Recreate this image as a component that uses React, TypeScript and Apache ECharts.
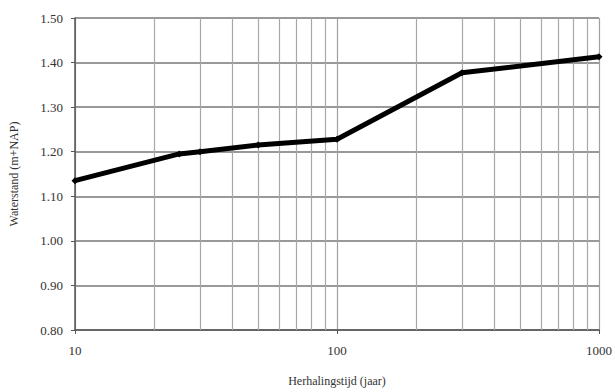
import React, { useEffect, useRef } from "react";
import * as echarts from "echarts";

const returnPeriods = [10, 25, 30, 50, 100, 300, 1000];
const waterLevels = [1.135, 1.195, 1.2, 1.215, 1.228, 1.377, 1.413];
const minorGridYears = [20, 30, 40, 50, 60, 70, 80, 90, 200, 300, 400, 500, 600, 700, 800, 900];
const yTitle = "Waterstand (m+NAP)";
const xTitle = "Herhalingstijd (jaar)";

const FONT = "Liberation Serif";

export default function App() {
  const ref = useRef<HTMLDivElement>(null);
  useEffect(() => {
    if (!ref.current) return;
    const chart = echarts.init(ref.current, null, { renderer: "svg" });
    chart.setOption({
      animation: false,
      backgroundColor: "#ffffff",
      textStyle: { fontFamily: FONT },
      grid: { left: 73, right: 15, top: 18, bottom: 60 },
      xAxis: {
        type: "log",
        logBase: 10,
        min: 10,
        max: 1000,
        name: xTitle,
        nameLocation: "middle",
        nameGap: 45,
        nameTextStyle: { fontFamily: FONT, fontSize: 12, color: "#333" },
        axisLine: { show: true, onZero: false, lineStyle: { color: "#555", width: 1.5 } },
        axisTick: { show: true, length: 4, lineStyle: { color: "#555" } },
        axisLabel: {
          fontFamily: FONT,
          fontSize: 13,
          color: "#333",
          margin: 14,
          formatter: (v: number) => String(Math.round(v)),
        },
        splitLine: { show: true, lineStyle: { color: "#a0a0a0", width: 1.2 } },
        minorTick: { show: false },
        minorSplitLine: { show: false },
      },
      yAxis: {
        type: "value",
        min: 0.8,
        max: 1.5,
        interval: 0.1,
        name: yTitle,
        nameLocation: "middle",
        nameGap: 55,
        nameTextStyle: { fontFamily: FONT, fontSize: 12, color: "#333" },
        axisLine: { show: true, lineStyle: { color: "#555", width: 1.5 } },
        axisTick: { show: true, length: 4, lineStyle: { color: "#555" } },
        axisLabel: {
          fontFamily: FONT,
          fontSize: 13,
          color: "#333",
          margin: 12,
          formatter: (v: number) => v.toFixed(2),
        },
        splitLine: { show: true, lineStyle: { color: "#999", width: 2 } },
      },
      series: [
        {
          type: "line",
          data: [],
          silent: true,
          markLine: {
            silent: true,
            symbol: "none",
            label: { show: false },
            lineStyle: { color: "#a8a8a8", width: 1.2, type: "solid" },
            data: minorGridYears.map((v) => ({ xAxis: v })),
          },
        },
        {
          type: "line",
          data: returnPeriods.map((x, i) => [x, waterLevels[i]]),
          symbol: "diamond",
          symbolSize: 7,
          showSymbol: true,
          itemStyle: { color: "#000" },
          lineStyle: { color: "#000", width: 5 },
          z: 5,
        },
      ],
    });
    return () => chart.dispose();
  }, []);
  return <div ref={ref} style={{ width: 615, height: 392, position: "absolute", left: 0, top: 0 }} />;
}
